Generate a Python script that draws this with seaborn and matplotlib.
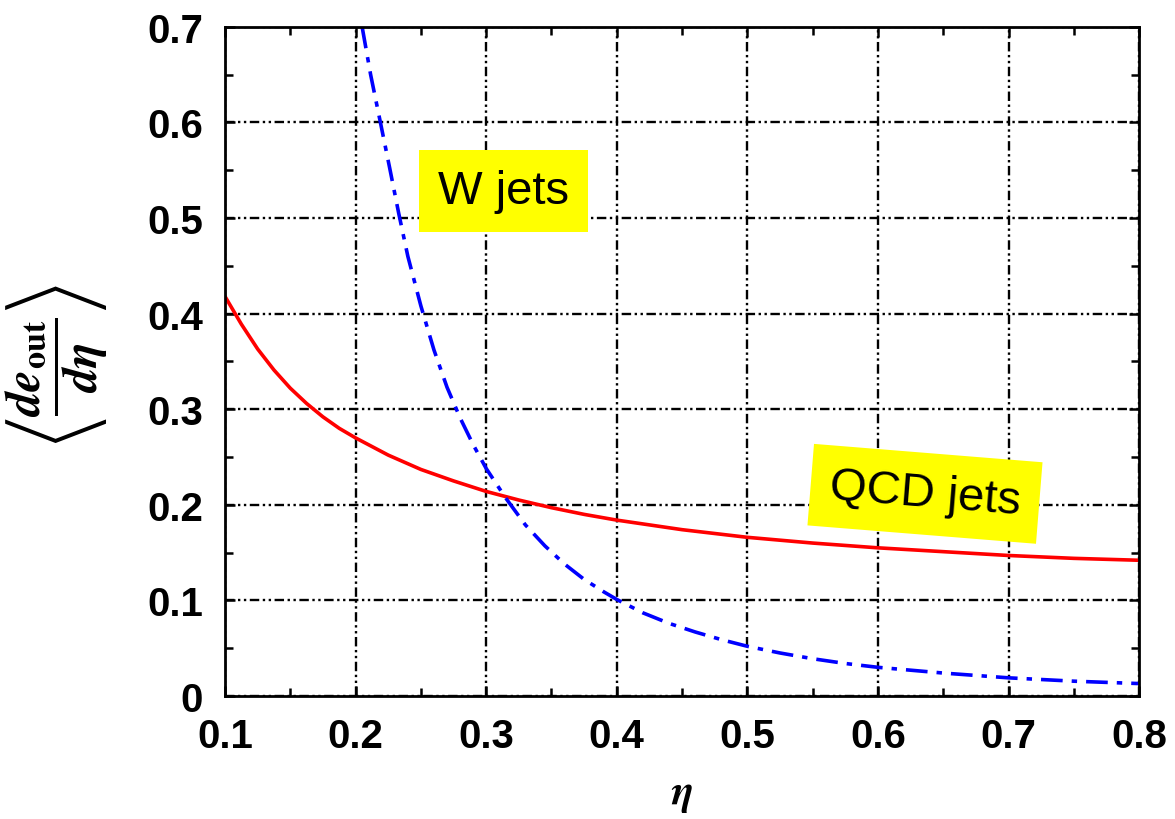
import matplotlib
matplotlib.use("Agg")
import matplotlib.pyplot as plt
import numpy as np
import pandas as pd
import seaborn as sns
from matplotlib.ticker import MultipleLocator

# values
eta_qcd = [0.100, 0.1125, 0.125, 0.1375, 0.150, 0.1625, 0.175, 0.1875, 0.200,
           0.225, 0.250, 0.275, 0.300, 0.325, 0.350, 0.375, 0.400, 0.425, 0.450,
           0.500, 0.550, 0.600, 0.650, 0.700, 0.750, 0.800]
deout_qcd = [0.418, 0.389, 0.363, 0.341, 0.322, 0.306, 0.292, 0.280, 0.270,
             0.252, 0.237, 0.225, 0.214, 0.205, 0.197, 0.190, 0.184, 0.179, 0.174,
             0.166, 0.160, 0.155, 0.151, 0.147, 0.144, 0.142]

eta_w = [0.205, 0.2115, 0.219, 0.226, 0.233, 0.240, 0.250, 0.260, 0.270, 0.280,
         0.290, 0.300, 0.315, 0.330, 0.345, 0.360, 0.375, 0.390, 0.400, 0.420,
         0.440, 0.460, 0.480, 0.500, 0.525, 0.550, 0.575, 0.600, 0.650, 0.700,
         0.750, 0.800]
deout_w = [0.700, 0.650, 0.600, 0.553, 0.505, 0.460, 0.408, 0.362, 0.323, 0.291,
           0.263, 0.238, 0.207, 0.179, 0.157, 0.138, 0.122, 0.109, 0.101, 0.087,
           0.076, 0.067, 0.059, 0.052, 0.045, 0.039, 0.034, 0.030, 0.024, 0.019,
           0.0155, 0.013]

x_ticks = [0.1, 0.2, 0.3, 0.4, 0.5, 0.6, 0.7, 0.8]
y_ticks = [0, 0.1, 0.2, 0.3, 0.4, 0.5, 0.6, 0.7]

df_qcd = pd.DataFrame({"eta": eta_qcd, "deout": deout_qcd})
df_w = pd.DataFrame({"eta": eta_w, "deout": deout_w})

sns.set_theme(style="ticks")
plt.rcParams["font.family"] = ["Liberation Sans", "DejaVu Sans"]
plt.rcParams["mathtext.fontset"] = "stix"
plt.rcParams["text.color"] = "black"
plt.rcParams["axes.labelcolor"] = "black"
plt.rcParams["xtick.color"] = "black"
plt.rcParams["ytick.color"] = "black"

fig = plt.figure(figsize=(11.75, 8.2), dpi=100)
ax = fig.add_axes([0.1915, 0.15, 0.778, 0.816])

sns.lineplot(data=df_qcd, x="eta", y="deout", ax=ax, color="#ff0000", linewidth=2.6)
sns.lineplot(data=df_w, x="eta", y="deout", ax=ax, color="#0000ff", linewidth=2.6,
             linestyle=(0, (6, 2.5, 1.5, 2.5)))

ax.set_xlim(0.1, 0.8)
ax.set_ylim(0, 0.7)
ax.set_xticks(x_ticks)
ax.set_yticks(y_ticks)
ax.set_xticklabels([f"{v:g}" for v in x_ticks], fontsize=29, fontweight="bold")
ax.set_yticklabels([f"{v:g}" for v in y_ticks], fontsize=29, fontweight="bold")
ax.xaxis.set_minor_locator(MultipleLocator(0.05))
ax.yaxis.set_minor_locator(MultipleLocator(0.05))
ax.tick_params(which="both", direction="in", top=True, right=True, color="black", width=1.8)
ax.tick_params(which="major", length=7)
ax.tick_params(which="minor", length=6)
ax.tick_params(axis="x", which="major", pad=15)
ax.tick_params(axis="y", which="major", pad=16)

ax.grid(True, which="major", color="black", linewidth=1.7,
        linestyle=(0, (4, 1.5, 1, 1.5, 1, 1.5)))
for s in ax.spines.values():
    s.set_color("black")
    s.set_linewidth(2)

ax.set_xlabel(r"$\mathbfit{\eta}$", fontsize=30, labelpad=14)
ax.set_ylabel(r"$\left\langle\dfrac{\mathbfit{de}_{\mathbf{out}}}{\mathbfit{d\eta}}\right\rangle$",
              fontsize=35)
ax.yaxis.set_label_coords(-0.126, 0.496)

box = dict(boxstyle="square,pad=0.4", facecolor="#ffff00", edgecolor="none")
ax.text(0.313, 0.528, "W jets", fontsize=34, ha="center", va="center", bbox=box)
ax.text(0.636, 0.2115, "QCD jets", fontsize=34, ha="center", va="center", bbox=box,
        rotation=-4.6, rotation_mode="anchor")

fig.savefig("out.png", dpi=100)
